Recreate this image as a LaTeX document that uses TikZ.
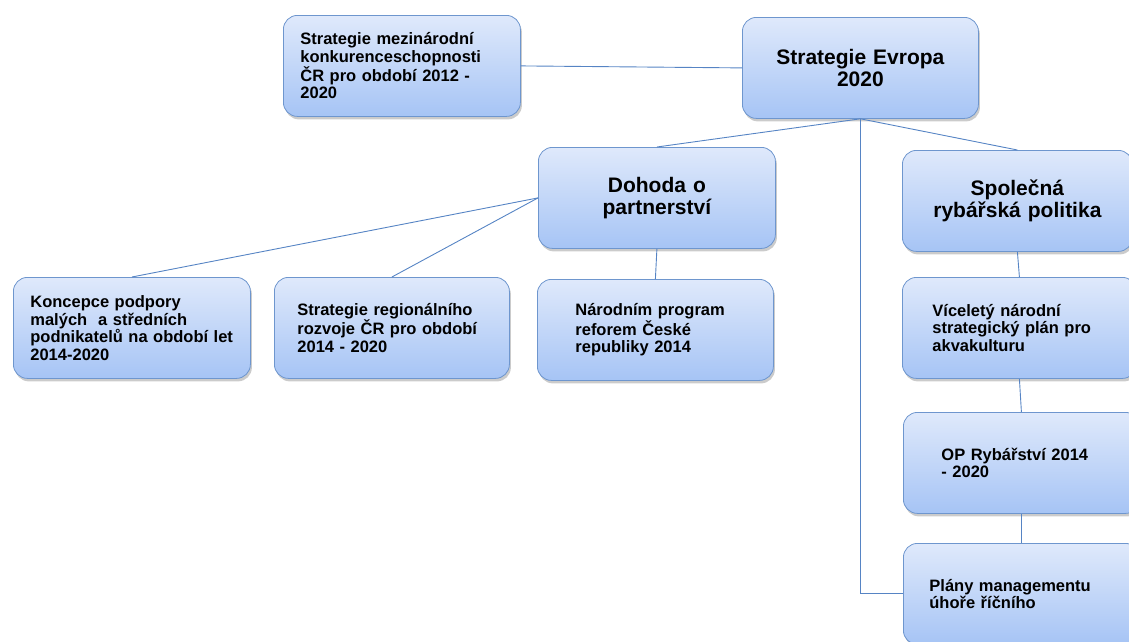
\documentclass[tikz,border=0pt]{standalone}
\usepackage{fontspec}
\setmainfont{Liberation Sans}
\usetikzlibrary{shadows}

\definecolor{boxtop}{RGB}{223,233,251}
\definecolor{boxbot}{RGB}{166,196,245}
\definecolor{boxline}{RGB}{110,150,206}
\definecolor{linkblue}{RGB}{86,132,196}

\tikzset{
  box/.style={draw=boxline, line width=0.8pt, rounded corners=14pt,
    top color=boxtop, bottom color=boxbot,
    drop shadow={shadow xshift=1.5pt, shadow yshift=-3pt, fill=black!45, opacity=0.45},
    anchor=north west, align=left, inner ysep=0pt,
    font=\bfseries\fontsize{16.5}{17.5}\selectfont},
  bigbox/.style={box, align=center, inner xsep=8pt,
    font=\bfseries\fontsize{21}{22}\selectfont},
  link/.style={draw=linkblue, line width=0.9pt}
}

\begin{document}
\begin{tikzpicture}[x=1pt, y=-1pt]
  \useasboundingbox (0, 0) rectangle (1129, 641);
  \pgfmathsetmacro{\bh}{101}

  % top row
  \node[box, minimum height=\bh, inner xsep=17pt, text width=203pt] (mezinar) at (283, 15)
    {Strategie mezinárodní\\konkurenceschopnosti\\ČR pro období 2012 -\\2020};
  \node[bigbox, minimum height=\bh, text width=220pt] (evropa) at (742, 17)
    {Strategie Evropa\\2020};

  % second row
  \node[bigbox, minimum height=\bh, text width=221pt] (dohoda) at (538, 147)
    {Dohoda o\\partnerství};
  \node[bigbox, minimum height=\bh, text width=214pt] (spolecna) at (902, 150)
    {Společná\\rybářská politika};

  % third row
  \node[box, minimum height=\bh, inner xsep=17pt, text width=203pt] (koncepce) at (13, 277)
    {Koncepce podpory\\malých~ a středních\\podnikatelů~na~období~let\\2014-2020};
  \node[box, minimum height=\bh, inner xsep=23pt, text width=189pt] (regional) at (274, 277)
    {Strategie regionálního\\rozvoje ČR pro období\\2014 - 2020};
  \node[box, minimum height=\bh, inner xsep=38pt, text width=160pt] (narodni) at (537, 279)
    {Národním program\\reforem České\\republiky 2014};
  \node[box, minimum height=\bh, inner xsep=30pt, text width=174pt] (vicelety) at (902, 277)
    {Víceletý národní\\strategický plán pro\\akvakulturu};

  % right column
  \node[box, minimum height=\bh, inner xsep=38pt, text width=160pt] (oprybar) at (903, 412)
    {OP Rybářství 2014\\- 2020};
  \node[box, minimum height=\bh, inner xsep=26pt, text width=184pt] (plany) at (903, 543)
    {Plány managementu\\úhoře říčního};

  % connectors
  \draw[link] (mezinar.east) -- (evropa.west);
  \draw[link] (evropa.south) -- (dohoda.north);
  \draw[link] (evropa.south) -- (spolecna.north);
  \draw[link] (evropa.south) |- (plany.west);
  \draw[link] (dohoda.west) -- (koncepce.north);
  \draw[link] (dohoda.west) -- (regional.north);
  \draw[link] (dohoda.south) -- (narodni.north);
  \draw[link] (spolecna.south) -- (vicelety.north);
  \draw[link] (vicelety.south) -- (oprybar.north);
  \draw[link] (oprybar.south) -- (plany.north);
\end{tikzpicture}
\end{document}
